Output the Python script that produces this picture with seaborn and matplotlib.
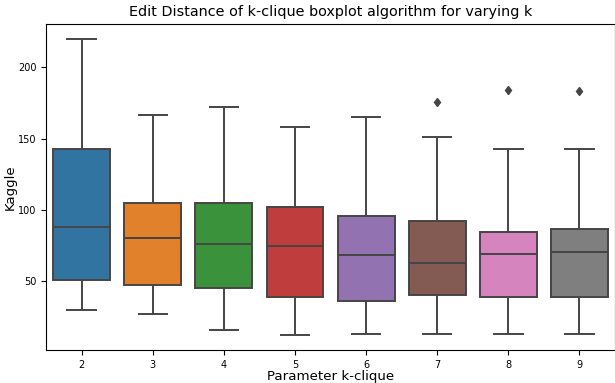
import numpy as np
import pandas as pd
import seaborn as sns
import matplotlib.pyplot as plt

# Values (per k)
k_values = [2, 3, 4, 5, 6, 7, 8, 9]
whisker_low = [30, 27, 16, 12, 13, 13, 13, 13]
q1 = [51, 47, 45, 39, 36, 40, 38.5, 38.5]
median = [88, 80.5, 76, 74.5, 68.5, 63, 69, 70.5]
q3 = [143, 105, 104.5, 102, 96, 92.5, 84.5, 86.5]
whisker_high = [220, 166.5, 172.5, 158, 165.5, 151.5, 142.5, 143]
outliers = [None, None, None, None, None, 175.5, 184.5, 183.5]

# Build a small sample per k that reproduces these box statistics
rows = []
for i, k in enumerate(k_values):
    top = whisker_high[i] if outliers[i] is None else outliers[i]
    vals = [whisker_low[i], q1[i], q1[i], median[i], median[i],
            q3[i], q3[i], whisker_high[i], top]
    for v in vals:
        rows.append({"k": k, "Kaggle": v})
df = pd.DataFrame(rows)

fig = plt.figure(figsize=(6.15, 3.83), dpi=100)
ax = fig.add_axes([0.075, 0.086, 0.925, 0.851])

sns.boxplot(data=df, x="k", y="Kaggle", hue="k", palette="tab10", legend=False,
            saturation=0.75, width=0.8, linewidth=1.4, linecolor="#454545",
            flierprops=dict(marker="d", markersize=4.5, markerfacecolor="#454545",
                            markeredgecolor="#454545"),
            ax=ax)

ax.set_title("Edit Distance of k-clique boxplot algorithm for varying k", fontsize=10.4)
ax.set_xlabel("Parameter k-clique", fontsize=9.6, labelpad=0)
ax.set_ylabel("Kaggle", fontsize=9.6, labelpad=1)
ax.tick_params(labelsize=7)
ax.set_yticks([50, 100, 150, 200])

plt.savefig("out.png", dpi=100)
